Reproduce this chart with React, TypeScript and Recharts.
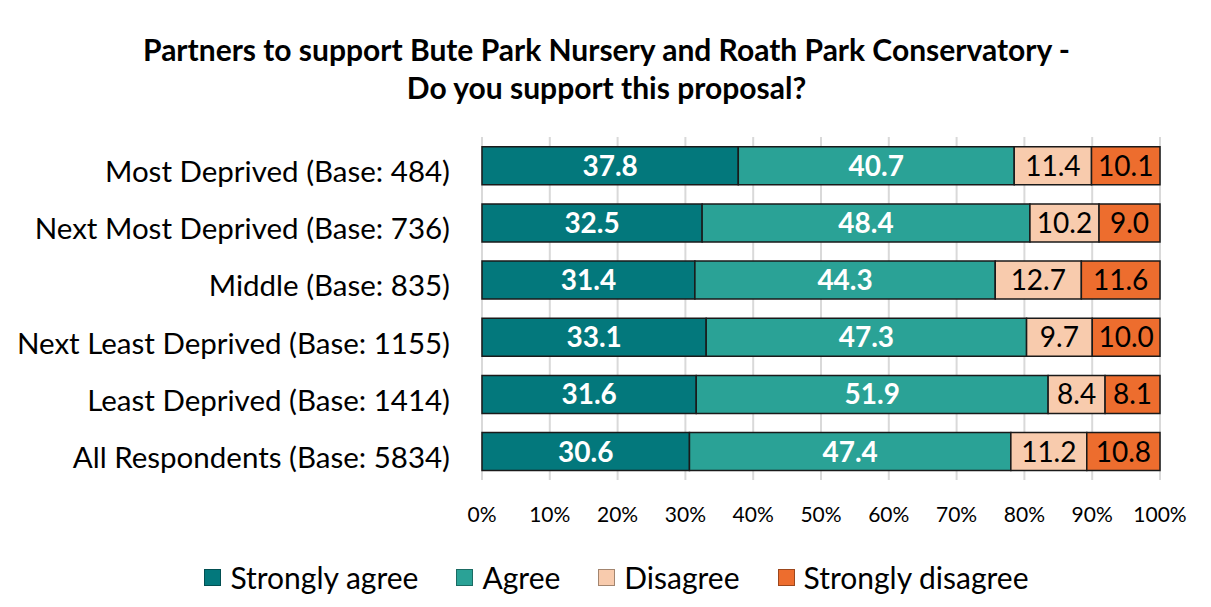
import React from 'react';
import { Bar, BarChart, CartesianGrid, LabelList, Legend, XAxis, YAxis } from 'recharts';

const FONT = 'Lato, "Open Sans", sans-serif';

const categories = [
  'Most Deprived (Base: 484)',
  'Next Most Deprived (Base: 736)',
  'Middle (Base: 835)',
  'Next Least Deprived (Base: 1155)',
  'Least Deprived (Base: 1414)',
  'All Respondents (Base: 5834)',
];

const stronglyAgree = [37.8, 32.5, 31.4, 33.1, 31.6, 30.6];
const agree = [40.7, 48.4, 44.3, 47.3, 51.9, 47.4];
const disagree = [11.4, 10.2, 12.7, 9.7, 8.4, 11.2];
const stronglyDisagree = [10.1, 9.0, 11.6, 10.0, 8.1, 10.8];

const xTicks = [0, 0.1, 0.2, 0.3, 0.4, 0.5, 0.6, 0.7, 0.8, 0.9, 1];

const SERIES = [
  { key: 'sa', name: 'Strongly agree', values: stronglyAgree, fill: '#03787c', edge: '#024f52', text: '#ffffff', bold: true },
  { key: 'ag', name: 'Agree', values: agree, fill: '#2aa296', edge: '#1b6b63', text: '#ffffff', bold: true },
  { key: 'di', name: 'Disagree', values: disagree, fill: '#f8cbad', edge: '#a3856f', text: '#000000', bold: false },
  { key: 'sd', name: 'Strongly disagree', values: stronglyDisagree, fill: '#ed6d2e', edge: '#9c471d', text: '#000000', bold: false },
];

const rows = categories.map((name, i) => ({
  name,
  sa: stronglyAgree[i],
  ag: agree[i],
  di: disagree[i],
  sd: stronglyDisagree[i],
}));

function makeLabel(s: (typeof SERIES)[number]) {
  return (props: any) => {
    const { x, y, width, height, index } = props;
    return (
      <text
        x={x + width / 2}
        y={y + height / 2}
        dy="0.36em"
        textAnchor="middle"
        fill={s.text}
        fontFamily={FONT}
        fontSize={28}
        fontWeight={s.bold ? 700 : 400}
      >
        {s.values[index].toFixed(1)}
      </text>
    );
  };
}

function LegendBox() {
  return (
    <div
      style={{
        display: 'flex',
        justifyContent: 'center',
        alignItems: 'center',
        gap: 38,
        fontFamily: FONT,
        fontSize: 30,
        lineHeight: '34px',
        color: '#000',
        paddingLeft: 14,
      }}
    >
      {SERIES.map((s) => (
        <div key={s.key} style={{ display: 'flex', alignItems: 'center' }}>
          <span
            style={{
              display: 'inline-block',
              width: 15,
              height: 15,
              background: s.fill,
              border: `1px solid ${s.edge}`,
              marginRight: 9,
            }}
          />
          <span>{s.name}</span>
        </div>
      ))}
    </div>
  );
}

export default function App() {
  return (
    <div
      style={{
        position: 'relative',
        width: 1205,
        height: 601,
        marginLeft: -2,
        marginTop: -2,
        borderTop: '2px solid #d9d9d9',
        borderLeft: '2px solid #d9d9d9',
        background: '#fff',
      }}
    >
      <div
        style={{
          position: 'absolute',
          left: 0,
          top: 22,
          width: 1197,
          textAlign: 'center',
          fontFamily: FONT,
          fontWeight: 700,
          fontSize: 30,
          lineHeight: '38px',
          color: '#000',
        }}
      >
        Partners to support Bute Park Nursery and Roath Park Conservatory -
        <br />
        Do you support this proposal?
      </div>
      <BarChart
        width={1203}
        height={599}
        data={rows}
        layout="vertical"
        stackOffset="expand"
        barCategoryGap="17%"
        margin={{ top: 129, right: 51, bottom: 87, left: 0 }}
      >
        <CartesianGrid horizontal={false} stroke="#d9d9d9" strokeWidth={2} />
        <XAxis
          type="number"
          domain={[0, 1]}
          ticks={xTicks}
          tickFormatter={(v: number) => `${Math.round(v * 100)}%`}
          axisLine={false}
          tickLine={false}
          tickSize={0}
          tickMargin={27}
          height={40}
          tick={{ fill: '#000', fontSize: 21, fontFamily: FONT }}
        />
        <YAxis
          type="category"
          dataKey="name"
          width={474}
          axisLine={false}
          tickLine={false}
          tickSize={0}
          tickMargin={32}
          interval={0}
          tick={{ fill: '#000', fontSize: 29.5, fontFamily: FONT, dy: 6 }}
        />
        {SERIES.map((s) => (
          <Bar
            key={s.key}
            dataKey={s.key}
            name={s.name}
            stackId="a"
            fill={s.fill}
            stroke="#1a1a1a"
            strokeWidth={1.5}
            isAnimationActive={false}
          >
            <LabelList dataKey={s.key} content={makeLabel(s)} />
          </Bar>
        ))}
        <Legend
          layout="horizontal"
          verticalAlign="middle"
          align="center"
          content={() => <LegendBox />}
          wrapperStyle={{ top: 552, left: 0, width: 1203, height: 34 }}
        />
      </BarChart>
    </div>
  );
}
